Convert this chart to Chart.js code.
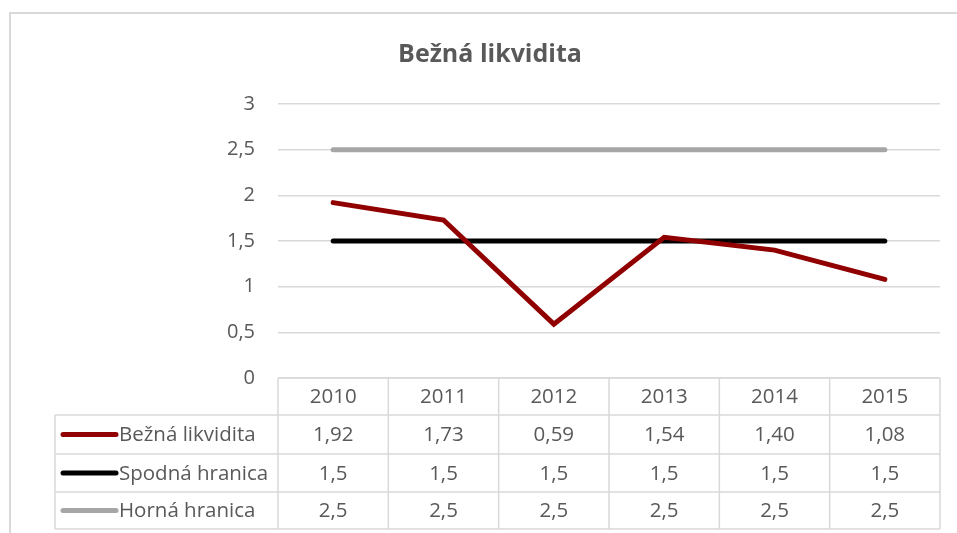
<!DOCTYPE html>
<html>
<head>
<meta charset="utf-8">
<script src="https://cdn.jsdelivr.net/npm/chart.js@4.4.0/dist/chart.umd.min.js"></script>
<style>
  body { margin: 0; background: #fff; }
  canvas { display: block; }
</style>
</head>
<body>
<canvas id="myChart" width="957" height="533"></canvas>
<script>
const years = ["2010", "2011", "2012", "2013", "2014", "2015"];
const beznaLikvidita = [1.92, 1.73, 0.59, 1.54, 1.40, 1.08];
const spodnaHranica = [1.5, 1.5, 1.5, 1.5, 1.5, 1.5];
const hornaHranica = [2.5, 2.5, 2.5, 2.5, 2.5, 2.5];
const yTicks = [0, 0.5, 1, 1.5, 2, 2.5, 3];

const FONT = "'Open Sans', sans-serif";
const TEXT = "#595959";
const LINE = "#d9d9d9";

function comma(v, dec) {
    return (dec == null ? String(v) : v.toFixed(dec)).replace(".", ",");
}

// white background + the chart border (cropped on right and bottom)
const frame = {
    id: "frame",
    beforeDraw(chart) {
        const c = chart.ctx;
        c.save();
        c.fillStyle = "#fff";
        c.fillRect(0, 0, chart.width, chart.height);
        c.strokeStyle = LINE;
        c.lineWidth = 2;
        c.strokeRect(10, 13, chart.width + 20, chart.height + 20);
        c.restore();
    }
};

// excel style data table under the plot, columns taken from the x scale
const dataTable = {
    id: "dataTable",
    afterDraw(chart) {
        const c = chart.ctx;
        const x = chart.scales.x;
        const area = chart.chartArea;
        const colW = area.width / years.length;
        const top = area.bottom;
        const rows = [top, top + 37, top + 76, top + 114, top + 151];
        const tableLeft = 55;

        c.save();
        c.strokeStyle = LINE;
        c.lineWidth = 1.5;
        c.beginPath();
        // horizontal lines
        c.moveTo(area.left, rows[0]); c.lineTo(area.right, rows[0]);
        for (let r = 1; r < rows.length; r++) {
            c.moveTo(tableLeft, rows[r]); c.lineTo(area.right, rows[r]);
        }
        // vertical lines
        c.moveTo(tableLeft, rows[1]); c.lineTo(tableLeft, rows[4]);
        for (let i = 0; i <= years.length; i++) {
            const xx = area.left + i * colW;
            c.moveTo(xx, rows[0]); c.lineTo(xx, rows[4]);
        }
        c.stroke();

        c.font = "20.5px " + FONT;
        c.fillStyle = TEXT;
        c.textAlign = "center";
        c.textBaseline = "middle";
        years.forEach((y, i) => {
            c.fillText(y, x.getPixelForValue(i), (rows[0] + rows[1]) / 2 + 1);
        });

        chart.data.datasets.forEach((ds, r) => {
            const cy = (rows[r + 1] + rows[r + 2]) / 2 + 1;
            c.textAlign = "center";
            c.fillStyle = TEXT;
            ds.data.forEach((v, i) => {
                c.fillText(comma(v, ds.decimals), x.getPixelForValue(i), cy);
            });
            // legend key
            c.strokeStyle = ds.borderColor;
            c.lineWidth = 5;
            c.lineCap = "round";
            c.beginPath();
            c.moveTo(63, cy - 1); c.lineTo(116, cy - 1);
            c.stroke();
            c.textAlign = "left";
            c.fillStyle = TEXT;
            c.fillText(ds.label, 119, cy);
        });
        c.restore();
    }
};

const ctx = document.getElementById("myChart");
new Chart(ctx, {
    type: "line",
    data: {
        labels: years,
        datasets: [
            {
                label: "Bežná likvidita",
                data: beznaLikvidita,
                decimals: 2,
                borderColor: "#900000",
                borderWidth: 5,
                borderCapStyle: "round",
                pointRadius: 0,
                tension: 0
            },
            {
                label: "Spodná hranica",
                data: spodnaHranica,
                decimals: 1,
                borderColor: "#000000",
                borderWidth: 5,
                borderCapStyle: "round",
                pointRadius: 0
            },
            {
                label: "Horná hranica",
                data: hornaHranica,
                decimals: 1,
                borderColor: "#a6a6a6",
                borderWidth: 5,
                borderCapStyle: "round",
                pointRadius: 0
            }
        ]
    },
    options: {
        responsive: false,
        animation: false,
        layout: { padding: { left: 40, right: 17, top: 0, bottom: 155 } },
        plugins: {
            legend: { display: false },
            tooltip: { enabled: false },
            title: {
                display: true,
                text: "Bežná likvidita",
                color: TEXT,
                font: { family: FONT, size: 25, weight: "bold" },
                padding: { top: 40, bottom: 34 }
            }
        },
        scales: {
            x: {
                display: false,
                offset: true
            },
            y: {
                min: 0,
                max: 3,
                afterBuildTicks: axis => { axis.ticks = yTicks.map(v => ({ value: v })); },
                afterFit: axis => { axis.width = 238; },
                ticks: {
                    padding: 23,
                    color: TEXT,
                    font: { family: FONT, size: 20 },
                    callback: v => comma(v)
                },
                grid: { color: LINE, lineWidth: 1.5, drawTicks: false },
                border: { display: false }
            }
        }
    },
    plugins: [frame, dataTable]
});
</script>
</body>
</html>
